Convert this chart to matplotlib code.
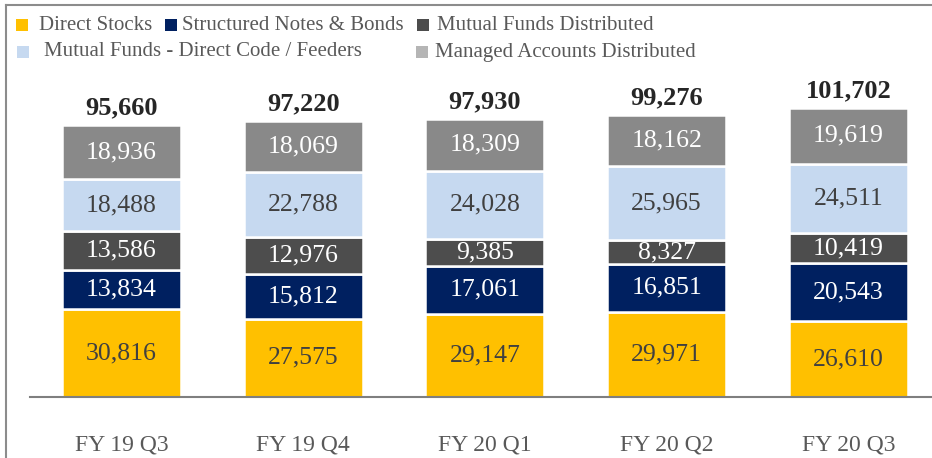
import matplotlib
matplotlib.use("Agg")
import matplotlib.pyplot as plt
from matplotlib.patches import Rectangle
from matplotlib.lines import Line2D
import numpy as np

categories = ["FY 19 Q3", "FY 19 Q4", "FY 20 Q1", "FY 20 Q2", "FY 20 Q3"]
series_names = ["Direct Stocks", "Structured Notes & Bonds", "Mutual Funds Distributed",
                "Mutual Funds - Direct Code / Feeders", "Managed Accounts Distributed"]
direct_stocks = [30816, 27575, 29147, 29971, 26610]
structured_notes = [13834, 15812, 17061, 16851, 20543]
mf_distributed = [13586, 12976, 9385, 8327, 10419]
mf_direct = [18488, 22788, 24028, 25965, 24511]
managed_accounts = [18936, 18069, 18309, 18162, 19619]
totals = [95660, 97220, 97930, 99276, 101702]

series_values = [direct_stocks, structured_notes, mf_distributed, mf_direct, managed_accounts]
colors = ["#FFC000", "#002060", "#4D4D4D", "#C6D9F0", "#898989"]
legend_colors = ["#FFC000", "#002060", "#4D4D4D", "#C6D9F0", "#B5B5B5"]
label_colors = ["#404040", "#FFFFFF", "#FFFFFF", "#404040", "#FFFFFF"]

plt.rcParams['font.family'] = ['Liberation Serif', 'DejaVu Serif']

W, H = 932, 458
fig = plt.figure(figsize=(W / 100, H / 100), dpi=100)

def fx(px):
    return px / W

def fy(py):
    return 1 - py / H

ax_left, ax_right, ax_bottom, ax_top = 30, 932, 397, 60
ax = fig.add_axes([fx(ax_left), fy(ax_bottom), fx(ax_right - ax_left), (ax_bottom - ax_top) / H])

x = np.arange(len(categories))
bottom = np.zeros(len(categories))
for vals, col, lcol in zip(series_values, colors, label_colors):
    vals = np.array(vals, dtype=float)
    ax.bar(x, vals, width=0.655, bottom=bottom, color=col, edgecolor="white", linewidth=1.8)
    for xi, b, v in zip(x, bottom, vals):
        ax.text(xi, b + v / 2, f"{int(v):,}", ha="center", va="center", fontsize=18.5, color=lcol)
    bottom += vals

for xi, t in zip(x, totals):
    ax.annotate(f"{t:,}", (xi, t), xytext=(0, 4), textcoords="offset points",
                ha="center", va="bottom", fontsize=19, fontweight="bold", color="#262626")

ax.set_xlim(-0.503, 4.46)
ax.set_ylim(0, (ax_bottom - ax_top) / 0.002843)
ax.set_xticks(x)
ax.set_xticklabels(categories, fontsize=17, color="#595959")
ax.tick_params(axis="x", length=0, pad=27)
ax.set_yticks([])
for s in ["top", "left", "right"]:
    ax.spines[s].set_visible(False)
ax.spines["bottom"].set_color("#7F7F7F")
ax.spines["bottom"].set_linewidth(1.5)

# legend (manual, matching layout)
legend_layout = [(16, 25, 39), (165, 25, 182), (417, 25, 437), (17, 52, 44), (416, 52, 435)]
for name, col, (mx, my, tx) in zip(series_names, legend_colors, legend_layout):
    fig.patches.append(Rectangle((fx(mx), fy(my + 6)), fx(12), 12 / H, transform=fig.transFigure,
                                 facecolor=col, edgecolor="none"))
    fig.text(fx(tx), fy(my), name, ha="left", va="center", fontsize=15, color="#595959")

# outer frame lines
fig.add_artist(Line2D([fx(6), fx(6)], [fy(5), 0], transform=fig.transFigure, color="#8C8C8C", lw=1.5))
fig.add_artist(Line2D([fx(6), 1], [fy(5), fy(5)], transform=fig.transFigure, color="#8C8C8C", lw=1.5))

fig.savefig("out.png", dpi=100)
